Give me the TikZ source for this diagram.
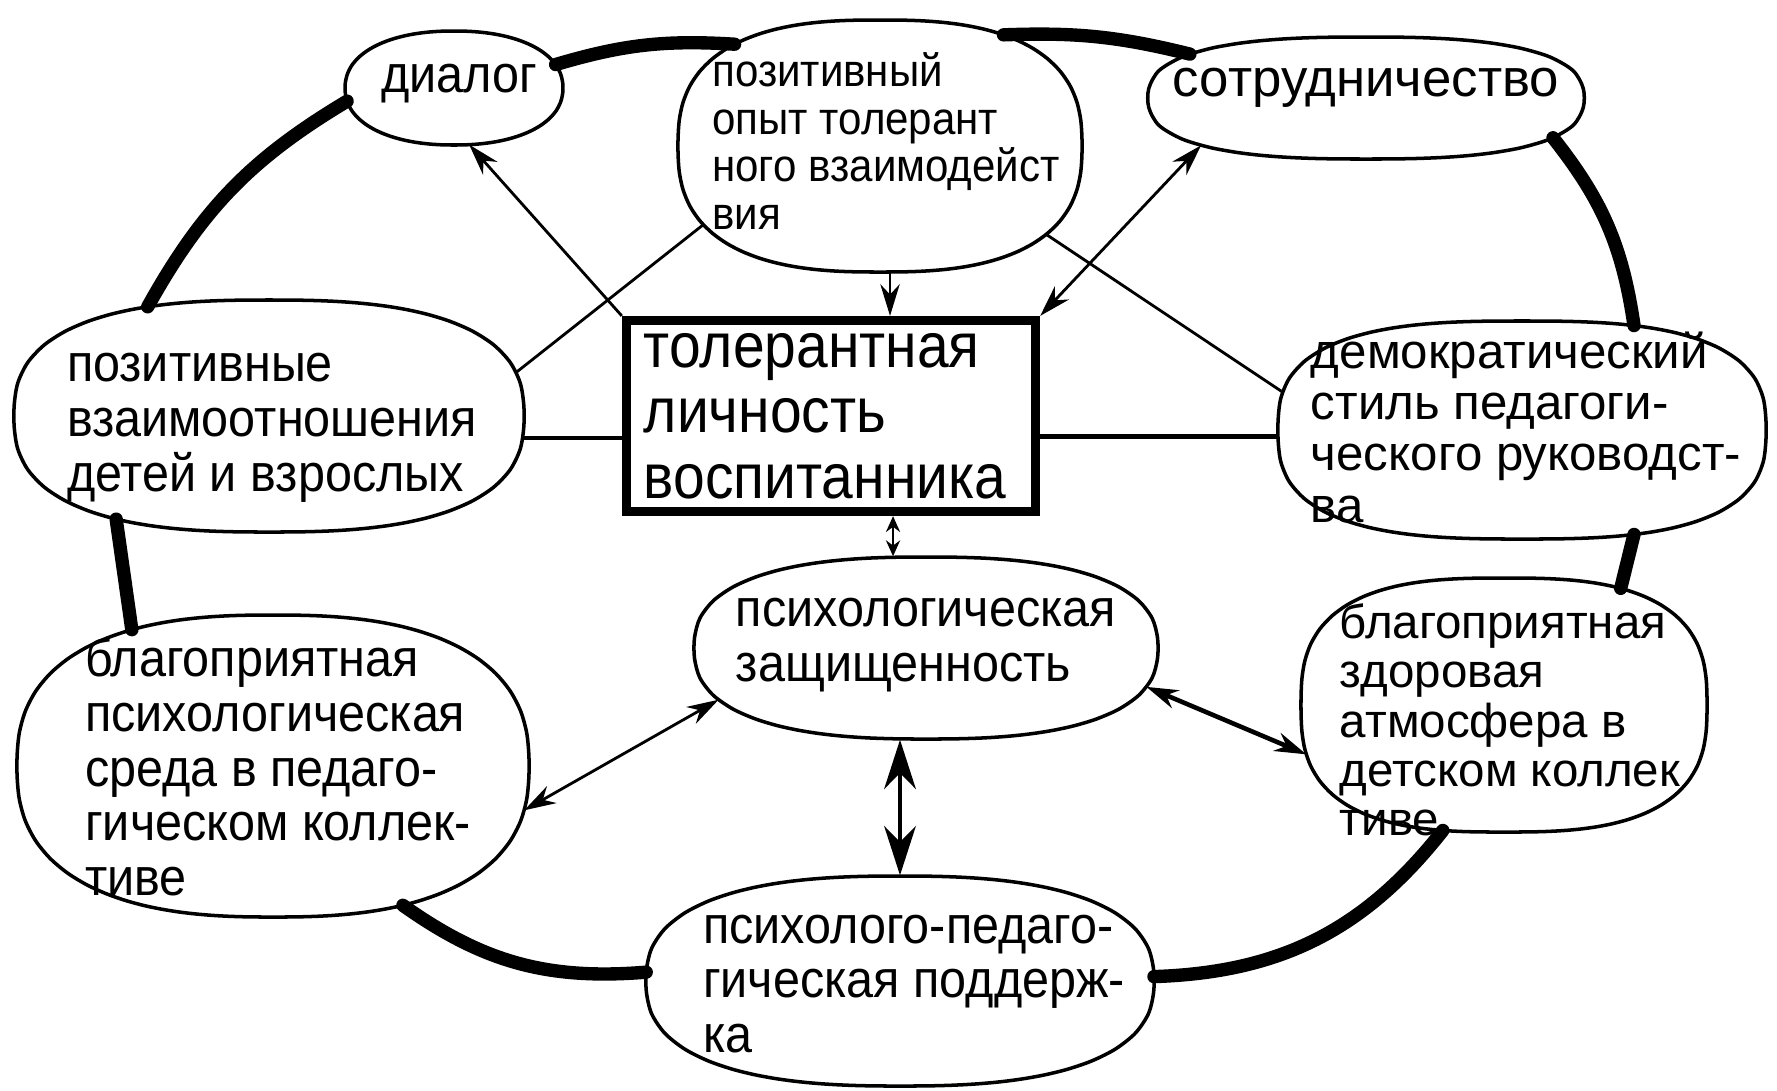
\documentclass[tikz,border=0pt]{standalone}
\usepackage{fontspec}
\usetikzlibrary{shapes.geometric,arrows.meta,calc}
\newfontfamily\hand[FakeStretch=0.92]{Liberation Sans}
\newfontfamily\handB[FakeStretch=0.9]{Liberation Sans}
\newfontfamily\handC[FakeStretch=1.0]{Liberation Sans}
% superellipse blob: name, cx, cy (px), a, b (cm), exponent
\newcommand\blob[6]{%
  \node[ellipse,inner sep=0pt,minimum width=2*#4cm,minimum height=2*#5cm] (#1) at (#2,#3) {};
  \draw[blobline] plot[smooth cycle,domain=2.5:357.5,samples=72]
     ({#2+100*sR(\x,#4,#5,#6)*cos(\x)},{#3-100*sR(\x,#4,#5,#6)*sin(\x)});
  \expandafter\xdef\csname #1@p\endcsname{#4,#5,#6}%
}
% border point of a blob in a given direction
\newcommand\bpt[3]{%
  \edef\bptP{\csname #2@p\endcsname}%
  \coordinate (#1) at ($(#2)+({100*sR(#3,\bptP)*cos(#3)},{-100*sR(#3,\bptP)*sin(#3)})$);
}
\begin{document}
\begin{tikzpicture}[x=0.01cm,y=-0.01cm,
  declare function={sR(\Ang,\Ra,\Rb,\En)=\Ra*\Rb/(((\Rb*abs(cos(\Ang))+0.0001)^\En+(\Ra*abs(sin(\Ang))+0.0001)^\En)^(1/\En));},
  blobline/.style={line width=1pt,fill=white},
  txt/.style={align=left,inner sep=0pt,font=\hand\fontsize{15}{15.6}\selectfont},
  ring/.style={line width=3.8pt,line cap=round},
  thinline/.style={line width=0.8pt},
  arr/.style={thinline,-{Stealth[length=9pt,width=5.5pt]}},
  darr/.style={thinline,{Stealth[length=9pt,width=5.5pt]}-{Stealth[length=9pt,width=5.5pt]}},
  smalldarr/.style={thinline,{Stealth[length=4.5pt,width=4pt]}-{Stealth[length=4.5pt,width=4pt]}},
  bigdarr/.style={line width=1.2pt,{Stealth[length=14pt,width=9pt]}-{Stealth[length=14pt,width=9pt]}}]
\useasboundingbox (0,0) rectangle (1777,1090);
\fill[white] (0,0) rectangle (1777,1090);

% shapes
\blob{dialog}{454}{88}{1.09}{0.57}{2.2}
\blob{opyt}{880}{146}{2.02}{1.26}{2.6}
\blob{sotr}{1366}{98}{2.18}{0.61}{2.6}
\node[draw,line width=2.6pt,minimum width=4.09cm,minimum height=1.91cm,inner sep=0pt] (box) at (831,416) {};
\blob{vzaimo}{269}{416}{2.55}{1.16}{2.6}
\blob{demo}{1522}{430}{2.44}{1.09}{2.8}
\blob{zasch}{926}{648}{2.32}{0.91}{2.5}
\blob{sreda}{273}{766}{2.56}{1.51}{2.5}
\blob{atm}{1504}{705}{2.03}{1.27}{2.8}
\blob{podd}{900}{981}{2.54}{1.05}{2.5}

% border points
\bpt{r1a}{dialog}{13}   \bpt{r1b}{opyt}{145}
\bpt{r2a}{opyt}{42}     \bpt{r2b}{sotr}{166}
\bpt{r3a}{sotr}{-12}    \bpt{r3b}{demo}{43}
\bpt{r4a}{demo}{-43}    \bpt{r4b}{atm}{45}
\bpt{r5a}{atm}{-116}    \bpt{r5b}{podd}{1}
\bpt{r6a}{podd}{178}    \bpt{r6b}{sreda}{-47}
\bpt{r7a}{sreda}{136}   \bpt{r7b}{vzaimo}{-146}
\bpt{r8a}{vzaimo}{138}  \bpt{r8b}{dialog}{187}
\bpt{c1}{dialog}{-75}
\bpt{c2a}{opyt}{204}    \bpt{c2b}{vzaimo}{10}
\bpt{c3}{sotr}{196}
\bpt{c4a}{opyt}{-28}    \bpt{c4b}{demo}{171}
\bpt{c5}{vzaimo}{-5}
\bpt{c8}{demo}{181.5}
\bpt{c6a}{zasch}{194}   \bpt{c6b}{sreda}{-10}
\bpt{c7a}{zasch}{-10}   \bpt{c7b}{atm}{194}

% outer ring
\draw[ring] (r1a) to[bend left=10] (r1b);
\draw[ring] (r2a) to[bend left=8] (r2b);
\draw[ring] (r3a) to[bend left=15] (r3b);
\draw[ring] (r4a) -- (r4b);
\draw[ring] (r5a) to[bend left=25] (r5b);
\draw[ring] (r6a) to[bend left=20] (r6b);
\draw[ring] (r7a) -- (r7b);
\draw[ring] (r8a) to[bend left=15] (r8b);

% inner connectors
\draw[arr] (box.north west) -- (c1);
\draw[thinline] (c2a) -- (c2b);
\coordinate (o1) at ([xshift=0.1cm]opyt.south);
\draw[arr] (o1) -- (o1 |- box.north);
\draw[darr] (box.north east) -- (c3);
\draw[thinline] (c4a) -- (c4b);
\draw[line width=1.2pt] (c5) -- (c5 -| box.west);
\draw[line width=1.2pt] (c8) -- (c8 -| box.east);
\coordinate (b1) at ([xshift=0.62cm]box.south);
\draw[smalldarr] (b1) -- (b1 |- zasch.north);
\draw[darr] (c6a) -- (c6b);
\draw[darr,line width=1.3pt] (c7a) -- (c7b);
\draw[bigdarr] (podd.north) -- (podd.north |- zasch.south);

% texts
\node[txt] (dialogT) at (459,84) {диалог};
\node[txt,font=\hand\fontsize{13}{13.5}\selectfont] (opytT) at (886,141) {позитивный\\опыт толерант\\ного взаимодейст\\вия};
\node[txt,font=\handC\fontsize{15}{15.6}\selectfont] (sotrT) at (1366,88) {сотрудничество};
\node[txt,font=\handB\fontsize{18}{18.6}\selectfont] (boxT) at (825,416) {толерантная\\личность\\воспитанника};
\node[txt] (vzaimoT) at (272,428) {позитивные\\взаимоотношения\\детей и взрослых};
\node[txt,font=\handC\fontsize{14}{14.6}\selectfont] (demoT) at (1526,427) {демократический\\стиль педагоги-\\ческого руководст-\\ва};
\node[txt] (zaschT) at (926,645) {психологическая\\защищенность};
\node[txt] (sredaT) at (278,767) {благоприятная\\психологическая\\среда в педаго-\\гическом коллек-\\тиве};
\node[txt,font=\handC\fontsize{13.5}{14}\selectfont] (atmT) at (1510,720) {благоприятная\\здоровая\\атмосфера в\\детском коллек\\тиве};
\node[txt] (poddT) at (914,984) {психолого-педаго-\\гическая поддерж-\\ка};
\end{tikzpicture}
\end{document}
